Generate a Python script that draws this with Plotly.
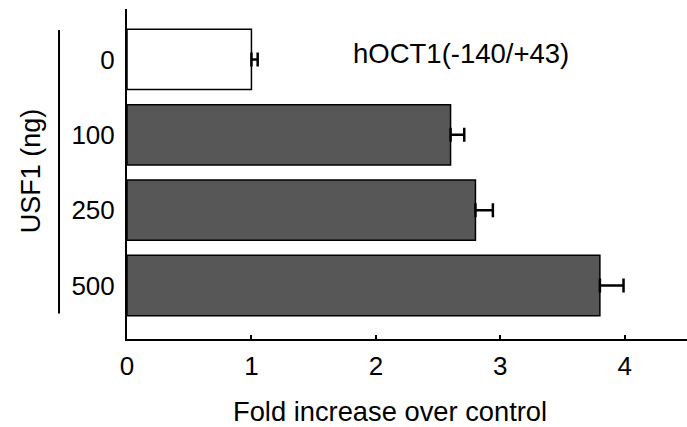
import plotly.graph_objects as go

categories = ["0", "100", "250", "500"]
fold_values = [1.0, 2.6, 2.8, 3.8]
error_plus = [0.05, 0.11, 0.14, 0.19]
bar_colors = ["white", "#575757", "#575757", "#575757"]
x_ticks = [0, 1, 2, 3, 4]

positions = list(range(len(categories)))
FONT = "Liberation Sans, Arial, Helvetica, sans-serif"

fig = go.Figure()
fig.add_trace(go.Bar(
    x=fold_values,
    y=positions,
    orientation="h",
    width=0.8,
    marker=dict(color=bar_colors, line=dict(color="black", width=1.5)),
    error_x=dict(type="data", array=error_plus, arrayminus=[0] * len(error_plus),
                 symmetric=False, color="black", thickness=2.5, width=7),
    showlegend=False,
))

fig.update_layout(
    width=687, height=427,
    margin=dict(l=127, r=0, t=9, b=88),
    paper_bgcolor="white", plot_bgcolor="white",
    font=dict(family=FONT, size=26, color="black"),
    xaxis=dict(range=[0, 4.5], tickvals=x_ticks, ticks="inside", ticklen=4,
               tickwidth=1.5, tickcolor="black", showline=True, linecolor="black",
               linewidth=2, showgrid=False, zeroline=False, ticklabelstandoff=3,
               tickfont=dict(size=26)),
    yaxis=dict(range=[3.71, -0.67], tickvals=positions, ticktext=categories,
               ticks="", showline=True, linecolor="black", linewidth=2,
               showgrid=False, zeroline=False, ticklabelstandoff=5,
               tickfont=dict(size=26)),
    shapes=[dict(type="line", xref="paper", yref="y", x0=-0.1214, x1=-0.1214,
                 y0=-0.39, y1=3.37, line=dict(color="black", width=2))],
    annotations=[
        dict(text="hOCT1(-140/+43)", xref="x", yref="y", x=2.68, y=-0.086,
             showarrow=False, font=dict(size=27.5), xanchor="center", yanchor="middle"),
        dict(text="USF1 (ng)", xref="paper", yref="paper", x=-0.171, y=0.509,
             textangle=-90, showarrow=False, font=dict(size=27),
             xanchor="center", yanchor="middle"),
        dict(text="Fold increase over control", xref="paper", yref="paper",
             x=0.469, y=-0.221, showarrow=False, font=dict(size=27.3),
             xanchor="center", yanchor="middle"),
    ],
)

fig.write_html("out.html")
